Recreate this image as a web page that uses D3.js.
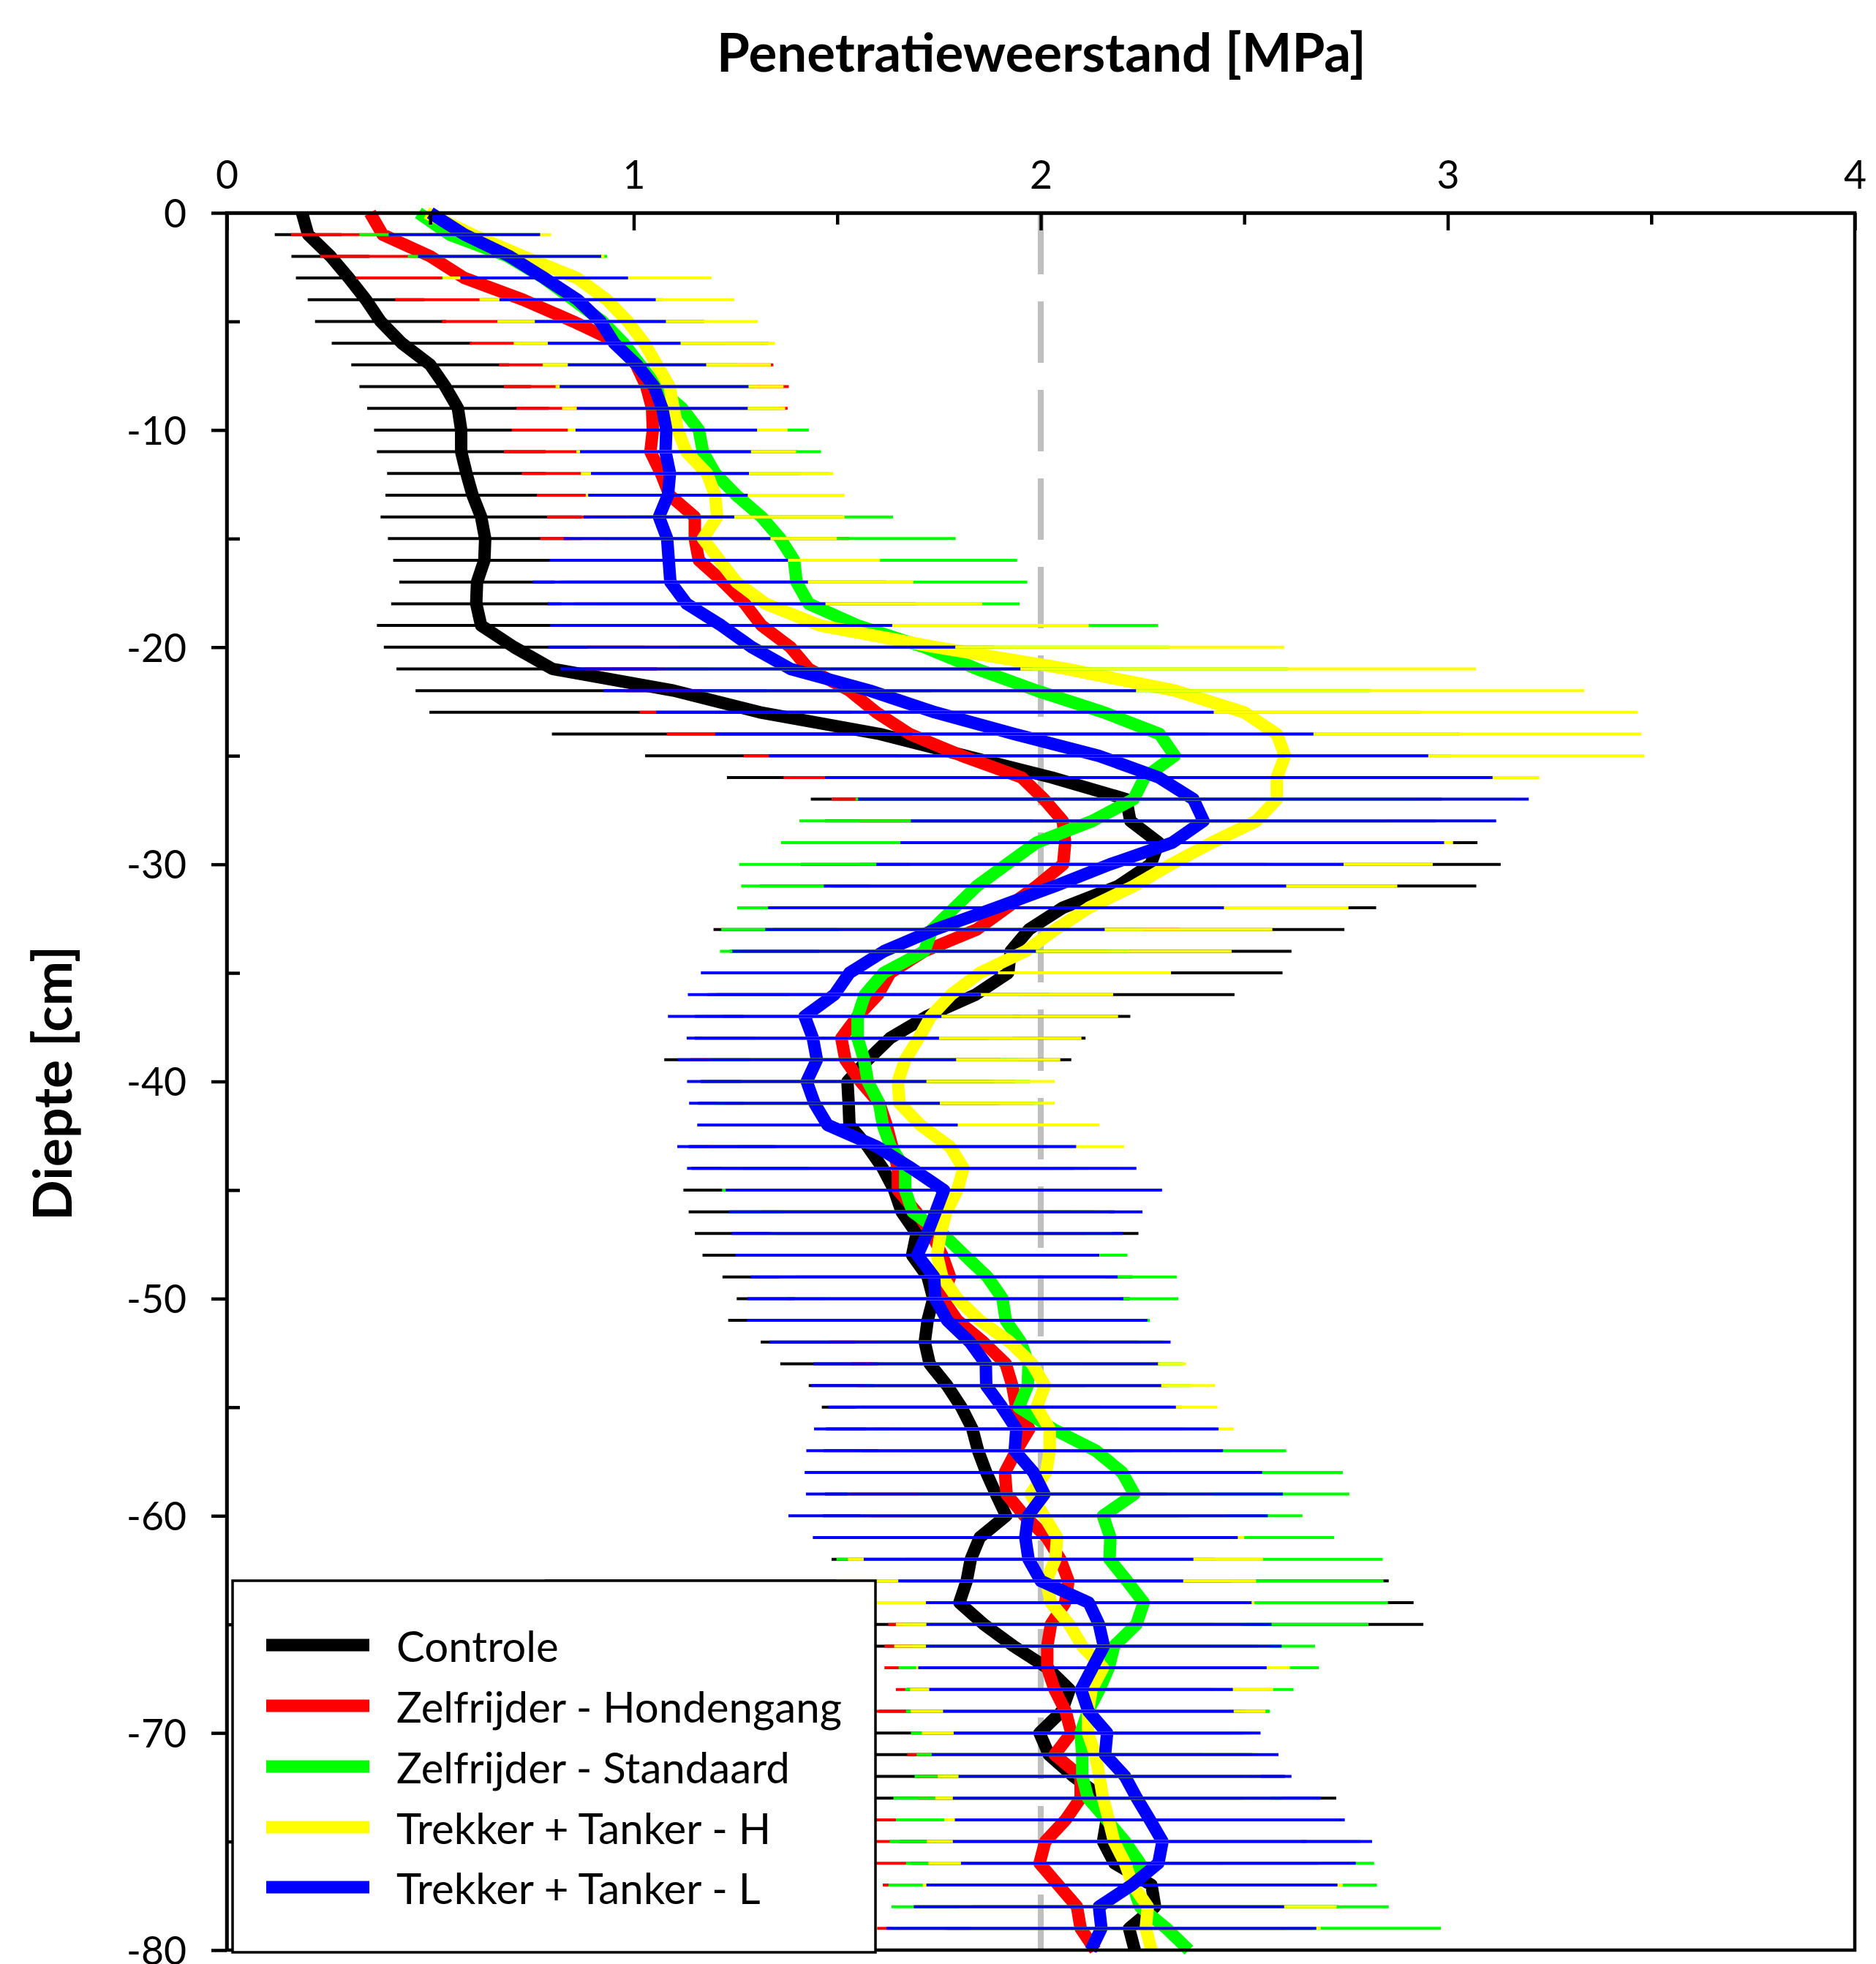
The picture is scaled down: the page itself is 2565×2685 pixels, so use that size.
<!DOCTYPE html>
<html>
<head>
<meta charset="utf-8">
<script src="https://cdn.jsdelivr.net/npm/d3@7"></script>
<style>
  body { margin: 0; background: #fff; }
  text { font-family: Lato, "Open Sans", sans-serif; fill: #000; }
</style>
</head>
<body>
<svg id="chart"></svg>
<script>
// depth in cm, one reading per cm
const depths = d3.range(0, -81, -1);

const controleMean = [
  0.185, 0.20, 0.255, 0.30, 0.342, 0.378, 0.43, 0.50, 0.537, 0.568,
  0.576, 0.576, 0.589, 0.604, 0.625, 0.635, 0.633, 0.615, 0.613, 0.625,
  0.706, 0.80, 1.098, 1.31, 1.605, 1.815, 2.027, 2.21, 2.22, 2.29,
  2.27, 2.19, 2.054, 1.971, 1.926, 1.92, 1.84, 1.72, 1.63, 1.575,
  1.525, 1.528, 1.53, 1.575, 1.612, 1.64, 1.658, 1.695, 1.684, 1.722,
  1.736, 1.722, 1.715, 1.727, 1.77, 1.805, 1.832, 1.846, 1.866, 1.89,
  1.915, 1.85, 1.828, 1.818, 1.80, 1.86, 1.933, 2.016, 2.071, 2.052,
  1.997, 2.02, 2.08, 2.153, 2.162, 2.153, 2.181, 2.272, 2.281, 2.217,
  2.231];
const controleSd = [
  0.075, 0.082, 0.096, 0.13, 0.143, 0.161, 0.172, 0.194, 0.211, 0.223,
  0.214, 0.207, 0.195, 0.214, 0.247, 0.239, 0.224, 0.191, 0.209, 0.256,
  0.32, 0.383, 0.634, 0.812, 0.806, 0.787, 0.798, 0.775, 0.75, 0.783,
  0.86, 0.88, 0.77, 0.775, 0.69, 0.674, 0.636, 0.5, 0.48, 0.5,
  0.36, 0.37, 0.36, 0.44, 0.47, 0.518, 0.523, 0.545, 0.515, 0.504,
  0.483, 0.49, 0.403, 0.367, 0.34, 0.343, 0.36, 0.38, 0.4, 0.42,
  0.45, 0.38, 0.342, 1.037, 1.116, 1.08, 0.6, 0.376, 0.4, 0.45,
  0.5, 0.5, 0.52, 0.573, 0.5, 0.5, 0.5, 0.45, 0.45, 0.45,
  0.45];

const hondengangMean = [
  0.352, 0.383, 0.50, 0.584, 0.728, 0.851, 0.964, 1.006, 1.031, 1.045,
  1.047, 1.041, 1.067, 1.088, 1.15, 1.15, 1.16, 1.22, 1.273, 1.314,
  1.385, 1.43, 1.53, 1.596, 1.678, 1.806, 1.953, 2.008, 2.054, 2.06,
  2.055, 1.99, 1.916, 1.843, 1.714, 1.63, 1.60, 1.55, 1.51, 1.52,
  1.557, 1.603, 1.621, 1.635, 1.649, 1.649, 1.694, 1.731, 1.758, 1.777,
  1.758, 1.795, 1.859, 1.914, 1.93, 1.94, 1.972, 1.94, 1.912, 1.916,
  1.96, 2.015, 2.048, 2.068, 2.06, 2.025, 2.016, 2.016, 2.034, 2.061,
  2.075, 2.034, 2.098, 2.098, 2.061, 2.011, 1.997, 2.043, 2.089, 2.098,
  2.134];
const hondengangSd = [
  0.21, 0.225, 0.27, 0.266, 0.314, 0.322, 0.367, 0.337, 0.35, 0.333,
  0.347, 0.36, 0.342, 0.326, 0.363, 0.38, 0.33, 0.40, 0.42, 0.45,
  0.50, 0.55, 0.55, 0.581, 0.597, 0.536, 0.585, 0.522, 0.5, 0.5,
  0.5, 0.5, 0.5, 0.5, 0.45, 0.45, 0.42, 0.4, 0.36, 0.38,
  0.38, 0.38, 0.38, 0.38, 0.38, 0.38, 0.38, 0.38, 0.38, 0.38,
  0.38, 0.38, 0.38, 0.38, 0.38, 0.38, 0.38, 0.38, 0.38, 0.38,
  0.38, 0.38, 0.38, 0.4, 0.4, 0.4, 0.4, 0.4, 0.39, 0.5,
  0.39, 0.362, 0.4, 0.4, 0.5, 0.45, 0.45, 0.431, 0.4, 0.5,
  0.45];

const standaardMean = [
  0.471, 0.548, 0.69, 0.779, 0.851, 0.923, 0.975, 1.016, 1.057, 1.119,
  1.16, 1.17, 1.20, 1.252, 1.314, 1.36, 1.394, 1.40, 1.43, 1.55,
  1.714, 1.843, 1.99, 2.155, 2.292, 2.329, 2.255, 2.228, 2.127, 1.99,
  1.916, 1.843, 1.788, 1.733, 1.714, 1.614, 1.568, 1.55, 1.55, 1.566,
  1.575, 1.603, 1.612, 1.631, 1.667, 1.667, 1.685, 1.758, 1.813, 1.869,
  1.906, 1.914, 1.951, 1.97, 1.968, 1.946, 2.03, 2.135, 2.2, 2.23,
  2.153, 2.171, 2.169, 2.212, 2.253, 2.235, 2.18, 2.167, 2.144, 2.116,
  2.098, 2.102, 2.102, 2.116, 2.162, 2.207, 2.244, 2.226, 2.244, 2.309,
  2.364];
const standaardSd = [
  0.197, 0.222, 0.245, 0.25, 0.22, 0.25, 0.25, 0.24, 0.24, 0.24,
  0.27, 0.29, 0.28, 0.25, 0.323, 0.431, 0.548, 0.567, 0.518, 0.738,
  0.6, 0.765, 0.822, 0.777, 0.737, 0.68, 0.75, 0.683, 0.72, 0.628,
  0.657, 0.579, 0.534, 0.518, 0.502, 0.4, 0.38, 0.38, 0.38, 0.38,
  0.4, 0.4, 0.4, 0.45, 0.45, 0.45, 0.45, 0.42, 0.4, 0.465,
  0.432, 0.354, 0.35, 0.38, 0.4, 0.4, 0.4, 0.468, 0.542, 0.528,
  0.49, 0.55, 0.671, 0.63, 0.6, 0.57, 0.494, 0.516, 0.477, 0.447,
  0.417, 0.407, 0.412, 0.478, 0.518, 0.578, 0.575, 0.6, 0.611, 0.674,
  0.70];

const tankerHMean = [
  0.491, 0.604, 0.728, 0.861, 0.934, 0.985, 1.026, 1.057, 1.088, 1.098,
  1.108, 1.129, 1.18, 1.20, 1.205, 1.17, 1.211, 1.252, 1.324, 1.458,
  1.742, 2.063, 2.33, 2.5, 2.58, 2.6, 2.58, 2.58, 2.53, 2.42,
  2.32, 2.228, 2.118, 2.036, 1.962, 1.85, 1.78, 1.73, 1.70, 1.667,
  1.649, 1.653, 1.704, 1.777, 1.81, 1.795, 1.768, 1.754, 1.745, 1.758,
  1.795, 1.85, 1.924, 1.979, 2.01, 1.99, 2.022, 2.022, 2.013, 1.975,
  2.008, 2.04, 2.036, 2.013, 2.025, 2.07, 2.102, 2.153, 2.125, 2.116,
  2.116, 2.134, 2.144, 2.153, 2.167, 2.18, 2.207, 2.226, 2.263, 2.258,
  2.272];
const tankerHSd = [
  0.17, 0.193, 0.2, 0.33, 0.313, 0.32, 0.321, 0.28, 0.28, 0.274,
  0.27, 0.27, 0.31, 0.318, 0.313, 0.329, 0.394, 0.435, 0.532, 0.66,
  0.856, 1.006, 1.005, 0.967, 0.896, 0.883, 0.645, 0.58, 0.55, 0.593,
  0.643, 0.648, 0.638, 0.533, 0.507, 0.47, 0.398, 0.46, 0.4, 0.381,
  0.385, 0.381, 0.44, 0.428, 0.38, 0.4, 0.4, 0.42, 0.4, 0.4,
  0.4, 0.4, 0.38, 0.378, 0.418, 0.444, 0.452, 0.42, 0.45, 0.45,
  0.45, 0.46, 0.51, 0.516, 0.5, 0.426, 0.462, 0.459, 0.446, 0.436,
  0.408, 0.4, 0.397, 0.412, 0.404, 0.46, 0.483, 0.516, 0.464, 0.43,
  0.45];

const tankerLMean = [
  0.50, 0.584, 0.695, 0.78, 0.862, 0.918, 0.952, 1.008, 1.05, 1.07,
  1.08, 1.078, 1.089, 1.084, 1.062, 1.082, 1.086, 1.09, 1.13, 1.215,
  1.29, 1.385, 1.58, 1.74, 1.935, 2.142, 2.29, 2.375, 2.4, 2.323,
  2.17, 2.035, 1.89, 1.74, 1.615, 1.53, 1.493, 1.42, 1.44, 1.45,
  1.425, 1.444, 1.476, 1.597, 1.683, 1.762, 1.742, 1.721, 1.697, 1.738,
  1.741, 1.77, 1.826, 1.865, 1.866, 1.905, 1.94, 1.936, 1.982, 2.009,
  1.969, 1.962, 1.97, 2.0, 2.118, 2.143, 2.155, 2.127, 2.099, 2.117,
  2.163, 2.158, 2.207, 2.236, 2.268, 2.299, 2.289, 2.224, 2.143, 2.149,
  2.123];
const tankerLSd = [
  0.18, 0.186, 0.225, 0.206, 0.192, 0.161, 0.163, 0.17, 0.232, 0.21,
  0.223, 0.21, 0.194, 0.196, 0.185, 0.254, 0.293, 0.338, 0.341, 0.42,
  0.50, 0.565, 0.654, 0.685, 0.735, 0.81, 0.82, 0.824, 0.719, 0.668,
  0.574, 0.568, 0.56, 0.417, 0.373, 0.365, 0.36, 0.336, 0.31, 0.342,
  0.294, 0.308, 0.32, 0.49, 0.552, 0.536, 0.508, 0.48, 0.447, 0.451,
  0.462, 0.492, 0.493, 0.423, 0.43, 0.427, 0.497, 0.512, 0.562, 0.586,
  0.589, 0.522, 0.405, 0.35, 0.4, 0.424, 0.437, 0.428, 0.373, 0.357,
  0.377, 0.426, 0.409, 0.452, 0.479, 0.515, 0.485, 0.505, 0.455, 0.528,
  0.62];

const seriesNames = ["Controle", "Zelfrijder - Hondengang", "Zelfrijder - Standaard",
                     "Trekker + Tanker - H", "Trekker + Tanker - L"];
const seriesColors = ["#000000", "#ff0000", "#00ff00", "#ffff00", "#0000ff"];
const xTicks = [0, 1, 2, 3, 4];
const xMinorTicks = [0.5, 1.5, 2.5, 3.5];
const yTicks = [0, -10, -20, -30, -40, -50, -60, -70, -80];
const yMinorTicks = [-5, -15, -25, -35, -45, -55, -65, -75];
const referenceLine = 2;

const series = [
  { mean: controleMean, sd: controleSd },
  { mean: hondengangMean, sd: hondengangSd },
  { mean: standaardMean, sd: standaardSd },
  { mean: tankerHMean, sd: tankerHSd },
  { mean: tankerLMean, sd: tankerLSd }
].map((s, i) => ({
  name: seriesNames[i],
  color: seriesColors[i],
  points: depths.map((d, j) => ({ depth: d, v: s.mean[j], sd: s.sd[j] }))
}));

const W = 2565, H = 2685;
const svg = d3.select("#chart").attr("width", W).attr("height", H);
svg.append("rect").attr("width", W).attr("height", H).attr("fill", "#fff");

const x = d3.scaleLinear().domain([0, 4]).range([310, 2536]);
const y = d3.scaleLinear().domain([0, -80]).range([291, 2666]);

// scale a text so it spans the given width
function fitWidth(sel, target) {
  const w = sel.node().getComputedTextLength();
  const fs = parseFloat(sel.attr("font-size"));
  sel.attr("font-size", fs * target / w);
  return fs * target / w;
}

// reference line at 2 MPa
svg.append("line")
  .attr("x1", x(referenceLine)).attr("x2", x(referenceLine))
  .attr("y1", y(0)).attr("y2", y(-80))
  .attr("stroke", "#bfbfbf").attr("stroke-width", 8)
  .attr("stroke-dasharray", "84 37");

// mean profiles
const line = d3.line().x(d => x(d.v)).y(d => y(d.depth));
svg.append("g").selectAll("path")
  .data(series)
  .join("path")
  .attr("d", d => line(d.points))
  .attr("fill", "none")
  .attr("stroke", d => d.color)
  .attr("stroke-width", 17)
  .attr("stroke-linejoin", "round");

// error bars (drawn on top, series order)
const bars = svg.append("g");
series.forEach(s => {
  bars.append("g").selectAll("line")
    .data(s.points)
    .join("line")
    .attr("x1", d => x(d.v - d.sd))
    .attr("x2", d => x(d.v + d.sd))
    .attr("y1", d => y(d.depth))
    .attr("y2", d => y(d.depth))
    .attr("stroke", s.color)
    .attr("stroke-width", 4);
});

// frame
svg.append("rect")
  .attr("x", x(0)).attr("y", y(0))
  .attr("width", x(4) - x(0)).attr("height", y(-80) - y(0))
  .attr("fill", "none").attr("stroke", "#000").attr("stroke-width", 4.5);

// top axis
svg.append("g").attr("transform", `translate(0,${y(0)})`)
  .call(d3.axisTop(x).tickValues(xTicks).tickSizeInner(-24).tickSizeOuter(0)
    .tickPadding(33).tickFormat(d => String(d)));
svg.append("g").attr("transform", `translate(0,${y(0)})`)
  .call(d3.axisTop(x).tickValues(xMinorTicks).tickSizeInner(-16).tickSizeOuter(0)
    .tickFormat(""))
  .call(g => g.select(".domain").remove());

// left axis
const yAxis = svg.append("g").attr("transform", `translate(${x(0)},0)`)
  .call(d3.axisLeft(y).tickValues(yTicks).tickSizeInner(21).tickSizeOuter(0)
    .tickPadding(34).tickFormat(d => String(d)));
svg.append("g").attr("transform", `translate(${x(0)},0)`)
  .call(d3.axisLeft(y).tickValues(yMinorTicks).tickSizeInner(-18).tickSizeOuter(0)
    .tickFormat(""))
  .call(g => g.select(".domain").remove());

svg.selectAll(".tick line").attr("stroke", "#000").attr("stroke-width", 4.5);
svg.selectAll(".domain").attr("stroke", "#000").attr("stroke-width", 4.5);

const tickLabels = svg.selectAll(".tick text")
  .attr("fill", "#000")
  .attr("font-family", "Lato, 'Open Sans', sans-serif")
  .attr("font-size", 55);
const probe = yAxis.selectAll(".tick text").filter(d => d === -10);
const tickSize = fitWidth(probe, 82);
tickLabels.attr("font-size", tickSize);
yAxis.selectAll(".tick text").attr("dy", "0.36em");

// titles
const title = svg.append("text")
  .attr("x", 1424).attr("y", 98)
  .attr("text-anchor", "middle")
  .attr("font-weight", "bold")
  .attr("font-size", 68)
  .text("Penetratieweerstand [MPa]");
fitWidth(title, 888);

const yTitle = svg.append("text")
  .attr("transform", "translate(98,1481) rotate(-90)")
  .attr("text-anchor", "middle")
  .attr("font-weight", "bold")
  .attr("font-size", 68)
  .text("Diepte [cm]");
fitWidth(yTitle, 376);

// legend
const legend = svg.append("g");
legend.append("rect")
  .attr("x", 318).attr("y", 2161)
  .attr("width", 879).attr("height", 508)
  .attr("fill", "#fff").attr("stroke", "#000").attr("stroke-width", 3.5);
const legendRows = [2249, 2332, 2415, 2498, 2580];
const item = legend.selectAll("g.item")
  .data(series)
  .join("g").attr("class", "item")
  .attr("transform", (d, i) => `translate(0,${legendRows[i]})`);
item.append("line")
  .attr("x1", 364).attr("x2", 505)
  .attr("stroke", d => d.color).attr("stroke-width", 17);
const legendText = item.append("text")
  .attr("x", 542)
  .attr("font-size", 52)
  .text(d => d.name);
const legendSize = fitWidth(legendText.filter((d, i) => i === 1), 609);
legendText.attr("font-size", legendSize).attr("dy", legendSize * 0.4);
</script>
</body>
</html>
